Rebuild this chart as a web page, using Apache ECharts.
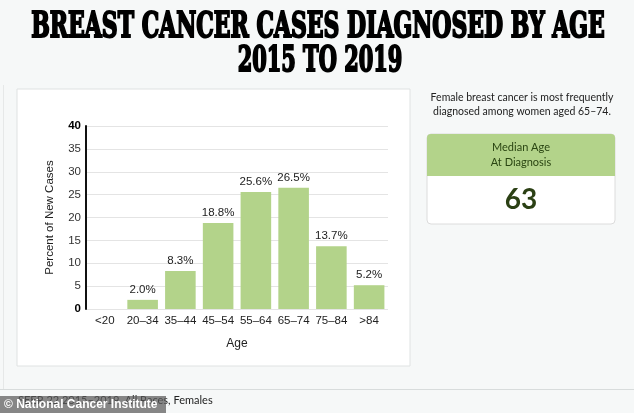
<!DOCTYPE html>
<html>
<head>
<meta charset="utf-8">
<script src="https://cdn.jsdelivr.net/npm/echarts@6/dist/echarts.min.js"></script>
<style>
html,body{margin:0;padding:0;background:#f6f8f8;}
#main{width:634px;height:413px;}
</style>
</head>
<body>
<div id="main"></div>
<script>
// ---- data ----
const categories = ['<20', '20\u201334', '35\u201344', '45\u201354', '55\u201364', '65\u201374', '75\u201384', '>84'];
const percentNewCases = [null, 2.0, 8.3, 18.8, 25.6, 26.5, 13.7, 5.2];
const yTicks = [0, 5, 10, 15, 20, 25, 30, 35, 40];
const titleLines = ['BREAST CANCER CASES DIAGNOSED BY AGE', '2015 TO 2019'];
const noteLines = ['Female breast cancer is most frequently', 'diagnosed among women aged 65\u201374.'];
const medianLabel = ['Median Age', 'At Diagnosis'];
const medianAge = 63;
const sourceText = 'SEER 22 2015\u20132019, All Races, Females';
const creditText = '\u00a9 National Cancer Institute';

const titleFont = 'bold 35px "DejaVu Serif Condensed", "DejaVu Serif", serif';
const cv = document.createElement('canvas').getContext('2d');
cv.font = titleFont;
function fitScale(text, target) { return target / (cv.measureText(text).width + 2); }

const chart = echarts.init(document.getElementById('main'), null, {renderer: 'canvas'});
const GREEN = '#b3d38a';
const sansUI = 'Lato, "Open Sans", sans-serif';
const arial = '"Liberation Sans", Arial, sans-serif';

chart.setOption({
  backgroundColor: '#f6f8f8',
  animation: false,
  grid: {left: 86, right: 246, top: 126, bottom: 104},
  xAxis: {
    type: 'category',
    data: categories,
    axisLine: {show: false},
    axisTick: {show: false},
    axisLabel: {interval: 0, color: '#222', fontSize: 11.5, fontFamily: arial, margin: 6},
    name: 'Age',
    nameLocation: 'middle',
    nameGap: 29,
    nameTextStyle: {color: '#222', fontSize: 12, fontFamily: arial}
  },
  yAxis: {
    type: 'value',
    min: yTicks[0],
    max: yTicks[yTicks.length - 1],
    interval: 5,
    axisLine: {show: true, lineStyle: {color: '#111', width: 2}},
    axisTick: {show: false},
    splitLine: {lineStyle: {color: '#e4e4e4'}},
    axisLabel: {
      fontFamily: arial,
      fontSize: 11.5,
      margin: 5,
      formatter: v => (v === 0 || v === 40) ? '{b|' + v + '}' : '{n|' + v + '}',
      rich: {
        b: {fontWeight: 'bold', color: '#000', fontSize: 11.5, fontFamily: arial},
        n: {color: '#333', fontSize: 11.5, fontFamily: arial}
      }
    },
    name: 'Percent of New Cases',
    nameLocation: 'middle',
    nameGap: 30,
    nameTextStyle: {color: '#222', fontSize: 11.5, fontFamily: arial}
  },
  series: [{
    type: 'bar',
    data: percentNewCases,
    barCategoryGap: '19%',
    itemStyle: {color: GREEN},
    label: {
      show: true,
      position: 'top',
      distance: 4,
      color: '#222',
      fontSize: 11.5,
      fontFamily: arial,
      formatter: p => p.value == null ? '' : p.value.toFixed(1) + '%'
    }
  }],
  graphic: [
    // panel
    {type: 'rect', z: -10, shape: {x: 17, y: 89, width: 393, height: 277}, style: {fill: '#fff', stroke: '#dfe2e2', lineWidth: 1}},
    {type: 'line', z: -10, shape: {x1: 3.5, y1: 85, x2: 3.5, y2: 389}, style: {stroke: '#e6e8e8', lineWidth: 1}},
    {type: 'line', z: -10, shape: {x1: 0, y1: 389.5, x2: 634, y2: 389.5}, style: {stroke: '#d8dcdc', lineWidth: 1}},
    // title
    {type: 'text', x: 318, y: 28, scaleX: fitScale(titleLines[0], 575),
     style: {text: titleLines[0], font: titleFont, fill: '#000', stroke: '#000', lineWidth: 2, textAlign: 'center', textVerticalAlign: 'middle'}},
    {type: 'text', x: 320, y: 62, scaleX: fitScale(titleLines[1], 166),
     style: {text: titleLines[1], font: titleFont, fill: '#000', stroke: '#000', lineWidth: 2, textAlign: 'center', textVerticalAlign: 'middle'}},
    // note
    {type: 'text', x: 522, y: 98, style: {text: noteLines[0], font: '10.5px ' + sansUI, fill: '#222', textAlign: 'center', textVerticalAlign: 'middle'}},
    {type: 'text', x: 522, y: 112, style: {text: noteLines[1], font: '10.5px ' + sansUI, fill: '#222', textAlign: 'center', textVerticalAlign: 'middle'}},
    // stat box
    {type: 'rect', shape: {x: 427, y: 134, width: 188, height: 90, r: 4}, style: {fill: '#fff', stroke: '#dcdcdc', lineWidth: 1}},
    {type: 'rect', shape: {x: 427, y: 134, width: 188, height: 42, r: [4, 4, 0, 0]}, style: {fill: GREEN}},
    {type: 'text', x: 521, y: 147, style: {text: medianLabel[0], font: '11px ' + sansUI, fill: '#2a4512', textAlign: 'center', textVerticalAlign: 'middle'}},
    {type: 'text', x: 521, y: 162, style: {text: medianLabel[1], font: '11px ' + sansUI, fill: '#2a4512', textAlign: 'center', textVerticalAlign: 'middle'}},
    {type: 'text', x: 521, y: 200, style: {text: String(medianAge), font: 'bold 28px ' + sansUI, fill: '#2b4014', textAlign: 'center', textVerticalAlign: 'middle'}},
    // footer
    {type: 'text', x: 18, y: 400, style: {text: sourceText, font: '11px ' + sansUI, fill: '#222', textAlign: 'left', textVerticalAlign: 'middle'}},
    {type: 'rect', z: 20, shape: {x: 0, y: 396, width: 166, height: 17}, style: {fill: 'rgba(90,90,90,0.72)'}},
    {type: 'text', z: 21, x: 4, y: 405, style: {text: creditText, font: 'bold 12px ' + arial, fill: '#fff', textAlign: 'left', textVerticalAlign: 'middle'}}
  ]
});
</script>
</body>
</html>
